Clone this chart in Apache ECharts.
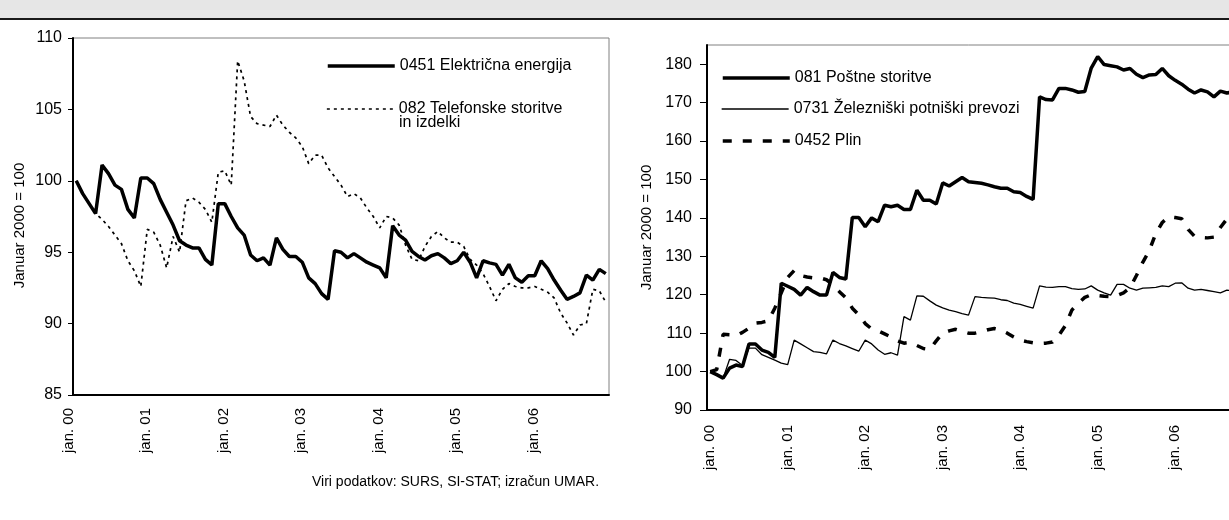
<!DOCTYPE html>
<html>
<head>
<meta charset="utf-8">
<script src="https://cdn.jsdelivr.net/npm/echarts@6/dist/echarts.min.js"></script>
<style>
html, body { margin: 0; padding: 0; background: #fff; }
#chart { width: 1229px; height: 520px; }
</style>
</head>
<body>
<div id="chart"></div>
<script>
// meseci jan. 2000 - nov. 2006
var months = ['jan.', 'feb.', 'mar.', 'apr.', 'maj', 'jun.', 'jul.', 'avg.', 'sep.', 'okt.', 'nov.', 'dec.'];
var years = ['00', '01', '02', '03', '04', '05', '06'];
var categories = [];
for (var y = 0; y < years.length; y++) {
	for (var m = 0; m < 12; m++) {
		if (y == 6 && m == 11) break;
		categories.push(months[m] + ' ' + years[y]);
	}
}

// levi graf
var elektrika = [100.0, 99.1, 98.4, 97.7, 101.1, 100.5, 99.7, 99.4, 98.0, 97.4, 100.2, 100.2,
	99.8, 98.7, 97.8, 96.9, 95.8, 95.5, 95.3, 95.3, 94.5, 94.1, 98.4, 98.4,
	97.5, 96.7, 96.2, 94.8, 94.4, 94.6, 94.1, 96.0, 95.2, 94.7, 94.7, 94.3,
	93.2, 92.8, 92.1, 91.7, 95.1, 95.0, 94.6, 94.9, 94.6, 94.3, 94.1, 93.9,
	93.2, 96.85, 96.2, 95.85, 95.05, 94.7, 94.45, 94.75, 94.9, 94.6, 94.2, 94.4,
	95.0, 94.3, 93.2, 94.4, 94.25, 94.15, 93.4, 94.15, 93.2, 92.9, 93.35, 93.35,
	94.4, 93.85, 93.05, 92.35, 91.7, 91.9, 92.15, 93.4, 93.05, 93.8, 93.5];
var telefon = [100.0, 99.1, 98.4, 97.7, 97.3, 96.8, 96.2, 95.6, 94.4, 93.7, 92.6, 96.6,
	96.4, 95.5, 93.9, 96.1, 95.0, 98.6, 98.8, 98.5, 98.0, 97.1, 100.6, 100.7,
	99.7, 108.4, 107.0, 104.5, 104.0, 103.9, 103.8, 104.6, 103.9, 103.4, 103.0, 102.4,
	101.2, 101.8, 101.8, 100.9, 100.3, 99.7, 98.9, 99.1, 98.8, 98.1, 97.5, 96.7,
	97.5, 97.4, 96.9, 95.5, 94.5, 94.4, 95.4, 96.1, 96.45, 96.0, 95.7, 95.7,
	95.4, 94.5, 94.1, 93.5, 92.6, 91.6, 92.4, 92.8, 92.6, 92.5, 92.5, 92.6,
	92.4, 92.2, 91.8, 90.75, 90.05, 89.2, 89.9, 90.0, 92.4, 92.3, 91.5];

// desni graf
var posta = [100.0, 99.2, 98.3, 100.9, 101.7, 101.3, 107.2, 107.2, 105.6, 105.0, 103.7, 123.0,
	122.2, 121.4, 119.9, 121.9, 120.8, 119.9, 119.9, 125.8, 124.5, 124.1, 140.1, 140.1,
	137.7, 140.0, 139.0, 143.3, 142.9, 143.3, 142.2, 142.2, 147.2, 144.6, 144.6, 143.6,
	149.1, 148.3, 149.4, 150.5, 149.4, 149.2, 149.0, 148.6, 148.1, 147.7, 147.7, 146.8,
	146.6, 145.6, 144.8, 171.5, 170.8, 170.7, 173.7, 173.7, 173.3, 172.7, 172.9, 179.0,
	182.0, 179.9, 179.6, 179.3, 178.5, 178.9, 177.4, 176.5, 177.2, 177.3, 178.9, 177.0,
	175.8, 174.8, 173.5, 172.5, 173.3, 172.8, 171.5, 173.0, 172.5, 172.8, 173.0];
var zeleznica = [100.0, 99.1, 98.3, 103.2, 102.9, 101.6, 106.1, 106.1, 104.4, 103.7, 103.0, 102.2,
	101.8, 108.2, 107.2, 106.2, 105.2, 105.0, 104.6, 108.2, 107.3, 106.7, 106.0, 105.3,
	108.2, 107.2, 105.6, 104.5, 104.9, 104.3, 114.3, 113.4, 119.7, 119.6, 118.4, 117.3,
	116.6, 116.0, 115.6, 115.1, 114.7, 119.5, 119.3, 119.2, 119.1, 118.7, 118.5, 117.8,
	117.5, 117.0, 116.5, 122.3, 122.0, 121.9, 122.1, 122.1, 121.6, 121.4, 121.5, 122.3,
	121.2, 120.5, 119.9, 122.7, 122.7, 121.7, 121.2, 121.7, 121.8, 121.9, 122.3, 122.1,
	123.0, 123.1, 121.7, 121.2, 121.4, 121.1, 120.8, 120.5, 121.2, 121.0, 121.0];
var plin = [100.0, 100.5, 109.7, 109.6, 109.3, 110.2, 111.3, 112.6, 112.8, 113.2, 116.5, 120.5,
	124.5, 126.3, 125.0, 124.6, 124.4, 124.4, 123.9, 122.6, 120.8, 119.2, 116.5, 114.8,
	112.5, 111.1, 110.6, 109.8, 109.0, 108.0, 107.4, 107.6, 106.8, 106.0, 105.8, 108.0,
	110.0, 110.6, 111.0, 110.5, 110.0, 110.0, 110.4, 110.9, 111.2, 110.8, 110.0, 109.0,
	108.2, 107.8, 107.5, 107.3, 107.4, 107.7, 109.5, 112.0, 116.0, 117.8, 119.3, 120.0,
	119.8, 119.6, 119.5, 119.8, 120.5, 121.8, 125.0, 128.5, 131.5, 136.0, 138.8, 140.3,
	140.1, 139.8, 137.0, 135.2, 134.9, 134.8, 135.0, 137.5, 139.7, 140.0, 140.3];

var yTicksRight = [90, 100, 110, 120, 130, 140, 150, 160, 170, 180];

var imeElektrika = '0451 Električna energija';
var imeTelefon = '082 Telefonske storitve in izdelki';
var imePosta = '081 Poštne storitve';
var imeZeleznica = '0731 Železniški potniški prevozi';
var imePlin = '0452 Plin';

var font = 'Liberation Sans, Arial, sans-serif';

function xAxis(grid, margin, vAlign) {
	return {
		type: 'category',
		gridIndex: grid,
		data: categories,
		boundaryGap: true,
		axisLine: { lineStyle: { color: '#000', width: 2 } },
		axisTick: { interval: 0, length: 5, lineStyle: { color: '#000', width: 1 } },
		axisLabel: { interval: 11, rotate: 90, fontSize: 15, color: '#000', margin: margin, verticalAlign: vAlign, fontFamily: font },
		splitLine: { show: false }
	};
}

function legend(name, left, top, width) {
	return {
		data: [name],
		left: left,
		top: top,
		orient: 'vertical',
		padding: 0,
		itemWidth: 67,
		itemHeight: 14,
		selectedMode: false,
		itemStyle: { color: 'rgba(0,0,0,0)', borderWidth: 0, opacity: 0 },
		lineStyle: { width: width },
		formatter: function (n) {
			return n == imeTelefon ? '082 Telefonske storitve' : n;
		},
		textStyle: { fontSize: 16, color: '#000', fontFamily: font }
	};
}

var option = {
	animation: false,
	backgroundColor: '#fff',
	textStyle: { fontFamily: font },
	title: {
		text: 'Viri podatkov: SURS, SI-STAT; izračun UMAR.',
		left: 312,
		top: 475,
		padding: 0,
		textStyle: { fontSize: 14, fontWeight: 'normal', color: '#000', fontFamily: font }
	},
	graphic: [
		{ type: 'rect', shape: { x: 0, y: 0, width: 1229, height: 18 }, style: { fill: '#e6e6e6' } },
		{ type: 'line', shape: { x1: 0, y1: 19, x2: 1229, y2: 19 }, style: { stroke: '#1a1a1a', lineWidth: 2 } },
		{ type: 'text', x: 399, y: 123, style: { text: 'in izdelki', fill: '#000', font: '16px ' + font, verticalAlign: 'middle' } }
	],
	legend: [
		legend(imeElektrika, 326, 58, 3.5),
		legend(imeTelefon, 326, 101, 1.7),
		legend(imePosta, 721, 70, 3.5),
		legend(imeZeleznica, 721, 101, 1.3),
		legend(imePlin, 721, 133, 3.5)
	],
	grid: [
		{ left: 73, top: 38, width: 536, height: 357, show: true, borderColor: '#808080', borderWidth: 1, containLabel: false, outerBoundsMode: 'none' },
		{ left: 707, top: 45, width: 536, height: 365, show: true, borderColor: '#808080', borderWidth: 1, containLabel: false, outerBoundsMode: 'none' }
	],
	xAxis: [xAxis(0, 13, 'bottom'), xAxis(1, 15, 'middle')],
	yAxis: [
		{
			type: 'value',
			gridIndex: 0,
			min: 85,
			max: 110,
			interval: 5,
			axisLine: { show: true, lineStyle: { color: '#000', width: 2 } },
			axisTick: { show: true, length: 5, lineStyle: { color: '#000', width: 1 } },
			axisLabel: { fontSize: 16, color: '#000', margin: 11, fontFamily: font },
			splitLine: { show: false },
			name: 'Januar 2000 = 100',
			nameLocation: 'middle',
			nameRotate: 90,
			nameGap: 46,
			nameTextStyle: { fontSize: 15, color: '#000', fontFamily: font, padding: [0, 18, 0, 0] }
		},
		{
			type: 'value',
			gridIndex: 1,
			min: 90,
			max: 185,
			interval: 10,
			axisLine: { show: true, lineStyle: { color: '#000', width: 2 } },
			axisTick: { show: true, length: 7, customValues: yTicksRight, lineStyle: { color: '#000', width: 1 } },
			axisLabel: { fontSize: 16, color: '#000', margin: 15, customValues: yTicksRight, fontFamily: font },
			splitLine: { show: false },
			name: 'Januar 2000 = 100',
			nameLocation: 'middle',
			nameRotate: 90,
			nameGap: 53,
			nameTextStyle: { fontSize: 15, color: '#000', fontFamily: font }
		}
	],
	series: [
		{
			name: imeTelefon, type: 'line', xAxisIndex: 0, yAxisIndex: 0,
			data: telefon, symbol: 'none',
			lineStyle: { color: '#000', width: 1.7, type: [3, 4] }, itemStyle: { color: '#000' }
		},
		{
			name: imeElektrika, type: 'line', xAxisIndex: 0, yAxisIndex: 0,
			data: elektrika, symbol: 'none',
			lineStyle: { color: '#000', width: 3.5 }, itemStyle: { color: '#000' }
		},
		{
			name: imePlin, type: 'line', xAxisIndex: 1, yAxisIndex: 1,
			data: plin, symbol: 'none',
			lineStyle: { color: '#000', width: 3.5, type: [9, 11] }, itemStyle: { color: '#000' }
		},
		{
			name: imeZeleznica, type: 'line', xAxisIndex: 1, yAxisIndex: 1,
			data: zeleznica, symbol: 'none',
			lineStyle: { color: '#000', width: 1.3 }, itemStyle: { color: '#000' }
		},
		{
			name: imePosta, type: 'line', xAxisIndex: 1, yAxisIndex: 1,
			data: posta, symbol: 'none',
			lineStyle: { color: '#000', width: 3.5 }, itemStyle: { color: '#000' }
		}
	]
};

var chart = echarts.init(document.getElementById('chart'));
chart.setOption(option);
window.onresize = chart.resize;
</script>
</body>
</html>
